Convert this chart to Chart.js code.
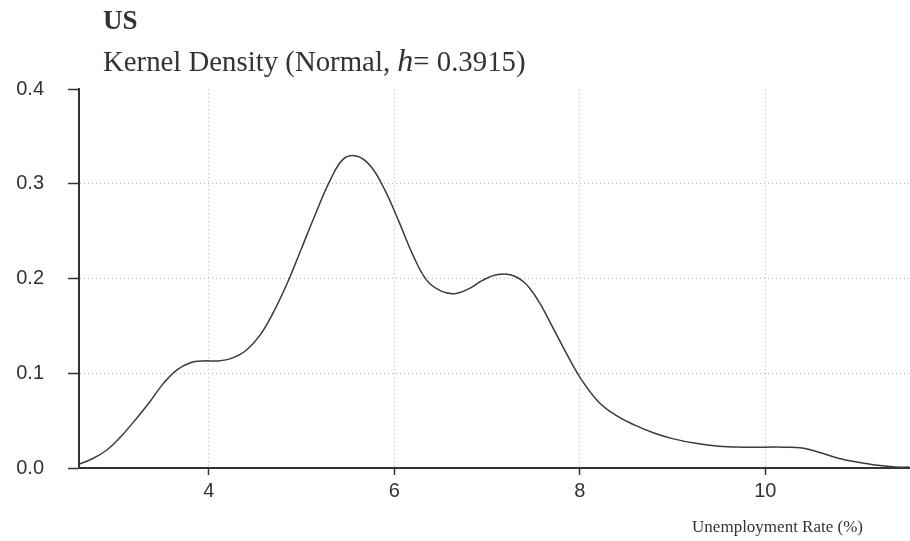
<!DOCTYPE html>
<html>
<head>
<meta charset="utf-8">
<script src="https://cdn.jsdelivr.net/npm/chart.js@4.4.1/dist/chart.umd.min.js"></script>
<style>
  body { margin: 0; background: #fff; }
  #wrap { position: relative; width: 910px; height: 541px; }
  .lbl { position: absolute; font-family: "Liberation Serif", "Times New Roman", serif; color: #333; white-space: nowrap; }
</style>
</head>
<body>
<div id="wrap">
  <canvas id="mycanvas" width="910" height="541"></canvas>
  <div class="lbl" style="left:103px; top:7px; font-size:27px; line-height:27px; font-weight:bold;">US</div>
  <div class="lbl" style="left:103px; top:46px; font-size:28.8px; line-height:29px;">Kernel Density (Normal, <span style="font-style:italic; font-size:32px; line-height:29px;">h</span>= 0.3915)</div>
  <div class="lbl" style="right:47px; top:518px; font-size:17px; line-height:17px;">Unemployment Rate (%)</div>
</div>
<script>
// unemployment rate (%) grid and estimated density
var rate = [2.60, 2.75, 2.90, 3.05, 3.20, 3.35, 3.50, 3.65, 3.80, 3.95,
	4.10, 4.25, 4.40, 4.55, 4.70, 4.85, 5.00, 5.15, 5.30, 5.45,
	5.60, 5.75, 5.90, 6.05, 6.20, 6.35, 6.50, 6.65, 6.80, 6.95,
	7.10, 7.25, 7.40, 7.55, 7.70, 7.85, 8.00, 8.20, 8.40, 8.60,
	8.80, 9.00, 9.25, 9.50, 9.75, 10.00, 10.20, 10.40, 10.60, 10.80,
	11.00, 11.20, 11.40, 11.55];
var density = [0.004, 0.010, 0.019, 0.033, 0.050, 0.068, 0.088, 0.103, 0.111, 0.113,
	0.113, 0.116, 0.124, 0.140, 0.165, 0.196, 0.232, 0.268, 0.302, 0.326,
	0.329, 0.318, 0.293, 0.260, 0.225, 0.198, 0.187, 0.184, 0.189, 0.198,
	0.204, 0.204, 0.196, 0.177, 0.150, 0.122, 0.096, 0.070, 0.055, 0.045,
	0.037, 0.031, 0.026, 0.023, 0.022, 0.022, 0.022, 0.021, 0.016, 0.010,
	0.006, 0.003, 0.001, 0.001];
var xTicks = [4, 6, 8, 10];
var yTicks = [0.0, 0.1, 0.2, 0.3, 0.4];

var points = [];
for (var i in rate) {
	points.push({x: rate[i], y: density[i]});
}

var ctx = document.getElementById('mycanvas');
var chart = new Chart(ctx, {
	type: 'line',
	data: {
		datasets: [{
			data: points,
			borderColor: '#3a3a3a',
			borderWidth: 1.5,
			pointRadius: 0,
			tension: 0.4,
			fill: false
		}]
	},
	options: {
		responsive: false,
		animation: false,
		layout: { padding: { top: 89, right: 1, left: 0, bottom: 0 } },
		plugins: { legend: { display: false }, tooltip: { enabled: false } },
		scales: {
			x: {
				type: 'linear',
				min: 2.6,
				max: 11.55,
				afterBuildTicks: function(scale) {
					scale.ticks = xTicks.map(function(v) { return {value: v}; });
				},
				afterFit: function(scale) { scale.height = 73; },
				ticks: {
					color: '#333',
					font: { family: 'Liberation Sans, Arial, sans-serif', size: 20 },
					padding: 4,
					maxRotation: 0
				},
				grid: {
					color: '#b8b8b8',
					lineWidth: 1,
					tickColor: '#333',
					tickWidth: 1.5,
					tickLength: 7,
					tickBorderDash: []
				},
				border: { display: true, color: '#333', width: 2, dash: [1, 3] }
			},
			y: {
				type: 'linear',
				min: 0,
				max: 0.4,
				afterBuildTicks: function(scale) {
					scale.ticks = yTicks.map(function(v) { return {value: v}; });
				},
				afterFit: function(scale) { scale.width = 79; },
				ticks: {
					color: '#333',
					font: { family: 'Liberation Sans, Arial, sans-serif', size: 20 },
					padding: 24,
					callback: function(v) { return v.toFixed(1); }
				},
				grid: {
					color: function(c) {
						if (c.tick && (c.tick.value === 0 || c.tick.value === 0.4)) return 'rgba(0,0,0,0)';
						return '#b8b8b8';
					},
					lineWidth: 1,
					tickColor: '#333',
					tickWidth: 1.5,
					tickLength: 11,
					tickBorderDash: []
				},
				border: { display: true, color: '#333', width: 2, dash: [1, 3] }
			}
		}
	}
});
</script>
</body>
</html>
